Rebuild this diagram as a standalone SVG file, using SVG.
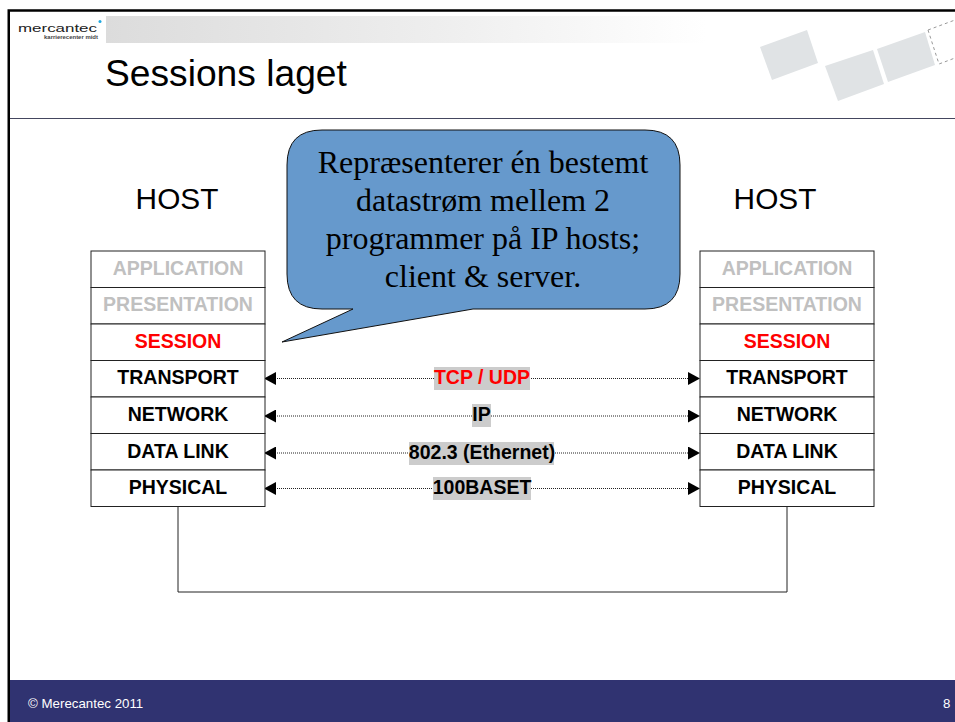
<svg xmlns="http://www.w3.org/2000/svg" width="955" height="722" viewBox="0 0 955 722">
<defs>
<linearGradient id="band" x1="0" x2="1" y1="0" y2="0"><stop offset="0" stop-color="#dcdcdc"/><stop offset="0.55" stop-color="#eeeeee"/><stop offset="1" stop-color="#ffffff"/></linearGradient>
<marker id="ah" viewBox="0 0 12 13" refX="11" refY="6.500" markerWidth="12" markerHeight="13" markerUnits="userSpaceOnUse" orient="auto-start-reverse"><path d="M0 0L12 6.500L0 13Z" fill="#000"/></marker>
</defs>
<style>
.lay{fill:#fff;stroke:#222;stroke-width:1}
.t{font-family:"Liberation Sans",Arial,sans-serif}
.l{font-size:19.500px;font-weight:bold;text-anchor:middle}
.g{fill:#c0c0c0}.r{fill:#f00}.k{fill:#000}
.lab{fill:#ccc}
.c{fill:none;stroke:#222;stroke-width:1}
.d{stroke:#222;stroke-width:1;stroke-dasharray:1 1;marker-start:url(#ah);marker-end:url(#ah)}
.sq{fill:#e0e3e5}
</style>
<rect width="955" height="722" fill="#fff"/>
<g id="frame">
<rect x="8.750" y="10.500" width="950" height="715" fill="none" stroke="#000" stroke-width="2.500"/>
<rect x="106" y="16" width="600" height="27" fill="url(#band)"/>
<rect x="10" y="680" width="945" height="42" fill="#303371"/>
<line x1="10" y1="118.500" x2="955" y2="118.500" stroke="#44465f" stroke-width="1"/>
</g>
<g id="logo">
<text class="t" x="18" y="32" font-size="10" textLength="79" lengthAdjust="spacingAndGlyphs" fill="#222">mercantec</text>
<circle cx="100" cy="21.500" r="1.500" fill="#1fa8e0"/>
<text class="t" x="44" y="39" font-size="4.500" font-weight="bold" textLength="54" lengthAdjust="spacingAndGlyphs" fill="#444">karrierecenter midt</text>
</g>
<g id="deco">
<polygon class="sq" points="760,47 807,30 818,63 772,80"/>
<polygon class="sq" points="825,66 873,50 884,84 838,101"/>
<polygon class="sq" points="877,49 925,32 935,65 888,82"/>
<path d="M928 30L955 20M928 30L939 64L955 58" fill="none" stroke="#999" stroke-width="1" stroke-dasharray="3 3"/>
</g>
<text class="t" x="105" y="86" font-size="37.200" fill="#000">Sessions laget</text>
<g id="host-left-label"><text class="t" x="177" y="209" font-size="29.800" text-anchor="middle">HOST</text></g>
<g id="host-right-label"><text class="t" x="775" y="209" font-size="29.800" text-anchor="middle">HOST</text></g>
<g id="connectors">
<path class="c" d="M178 506V592H787V506"/>
<line class="d" x1="265" y1="378.500" x2="699" y2="378.500"/>
<line class="d" x1="265" y1="416" x2="699" y2="416"/>
<line class="d" x1="265" y1="453" x2="699" y2="453"/>
<line class="d" x1="265" y1="488.500" x2="699" y2="488.500"/>
</g>
<g id="left-application"><rect class="lay" x="91" y="251" width="174" height="36.500"/><text class="t l g" x="178" y="275">APPLICATION</text></g>
<g id="left-presentation"><rect class="lay" x="91" y="287.500" width="174" height="36.500"/><text class="t l g" x="178" y="311">PRESENTATION</text></g>
<g id="left-session"><rect class="lay" x="91" y="324" width="174" height="36.500"/><text class="t l r" x="178" y="348">SESSION</text></g>
<g id="left-transport"><rect class="lay" x="91" y="360.500" width="174" height="36.500"/><text class="t l k" x="178" y="384">TRANSPORT</text></g>
<g id="left-network"><rect class="lay" x="91" y="397" width="174" height="36.500"/><text class="t l k" x="178" y="421">NETWORK</text></g>
<g id="left-datalink"><rect class="lay" x="91" y="433.500" width="174" height="36.500"/><text class="t l k" x="178" y="458">DATA LINK</text></g>
<g id="left-physical"><rect class="lay" x="91" y="470" width="174" height="36.500"/><text class="t l k" x="178" y="494">PHYSICAL</text></g>
<g id="right-application"><rect class="lay" x="700" y="251" width="174" height="36.500"/><text class="t l g" x="787" y="275">APPLICATION</text></g>
<g id="right-presentation"><rect class="lay" x="700" y="287.500" width="174" height="36.500"/><text class="t l g" x="787" y="311">PRESENTATION</text></g>
<g id="right-session"><rect class="lay" x="700" y="324" width="174" height="36.500"/><text class="t l r" x="787" y="348">SESSION</text></g>
<g id="right-transport"><rect class="lay" x="700" y="360.500" width="174" height="36.500"/><text class="t l k" x="787" y="384">TRANSPORT</text></g>
<g id="right-network"><rect class="lay" x="700" y="397" width="174" height="36.500"/><text class="t l k" x="787" y="421">NETWORK</text></g>
<g id="right-datalink"><rect class="lay" x="700" y="433.500" width="174" height="36.500"/><text class="t l k" x="787" y="458">DATA LINK</text></g>
<g id="right-physical"><rect class="lay" x="700" y="470" width="174" height="36.500"/><text class="t l k" x="787" y="494">PHYSICAL</text></g>
<g id="label-tcp"><rect class="lab" x="434" y="367" width="96" height="23"/><text class="t l r" x="482" y="384">TCP / UDP</text></g>
<g id="label-ip"><rect class="lab" x="472" y="404" width="19" height="23"/><text class="t l k" x="481.500" y="421">IP</text></g>
<g id="label-eth"><rect class="lab" x="409" y="442" width="145" height="23"/><text class="t l k" x="482" y="459">802.3 (Ethernet)</text></g>
<g id="label-100"><rect class="lab" x="433" y="477" width="98" height="23"/><text class="t l k" x="482" y="494">100BASET</text></g>
<g id="callout">
<path d="M322 130H645Q680 130 680 165V274Q680 309 645 309H473L282 342L353 309H322Q287 309 287 274V165Q287 130 322 130Z" fill="#6699cc" stroke="#111" stroke-width="1"/>
<g font-family="'Liberation Serif','Times New Roman',serif" font-size="32" text-anchor="middle" fill="#000">
<text x="483" y="173">Repræsenterer én bestemt</text>
<text x="483" y="211">datastrøm mellem 2</text>
<text x="483" y="249">programmer på IP hosts;</text>
<text x="483" y="287">client &amp; server.</text>
</g>
</g>
<g id="footer">
<text class="t" x="28" y="708" font-size="13.300" fill="#fff">© Merecantec 2011</text>
<text class="t" x="943" y="708" font-size="13.300" fill="#fff">8</text>
</g>
</svg>
